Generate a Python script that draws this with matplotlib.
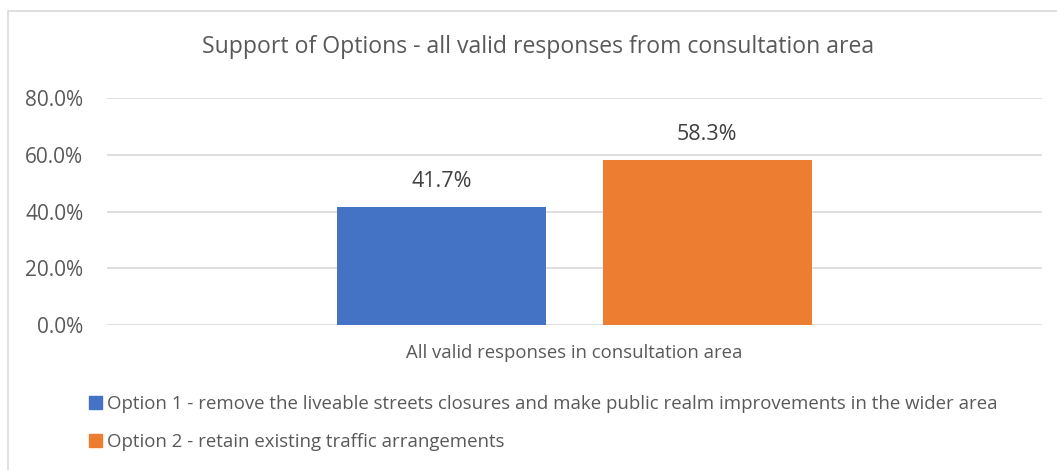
import matplotlib.pyplot as plt
from matplotlib.patches import Rectangle, Patch
from matplotlib.ticker import FuncFormatter

category = "All valid responses in consultation area"
options = [
    "Option 1 - remove the liveable streets closures and make public realm improvements in the wider area",
    "Option 2 - retain existing traffic arrangements",
]
values = [41.7, 58.3]
colors = ["#4472C4", "#ED7D31"]
yticks = [0, 20, 40, 60, 80]

W, H = 1057, 470
plt.rcParams["font.family"] = ["Open Sans", "DejaVu Sans"]
text_color = "#595959"

fig = plt.figure(figsize=(W / 100, H / 100), dpi=100)
# plot area in pixels: x 107..1042, y 98..325
ax = fig.add_axes([107 / W, 1 - 325 / H, (1042 - 107) / W, (325 - 98) / H])

# chart border (runs off right and bottom)
fig.patches.append(Rectangle((8 / W, -0.1), 1.2, 1 - 11 / H + 0.1, transform=fig.transFigure,
                             fill=False, edgecolor="#d9d9d9", linewidth=1.2))

bw = 0.2235
offsets = [-0.5 * bw - 0.03, 0.5 * bw + 0.03]
for v, c, off in zip(values, colors, offsets):
    ax.bar(off, v, width=bw, color=c, zorder=3)
    ax.annotate(f"{v:.1f}%", (off, v), xytext=(0, 18), textcoords="offset points",
                ha="center", va="center", fontsize=15.5, color="#404040")

ax.set_xlim(-0.5, 0.5)
ax.set_ylim(0, 80)
ax.set_yticks(yticks)
ax.yaxis.set_major_formatter(FuncFormatter(lambda v, p: f"{v:.1f}%"))
ax.grid(axis="y", color="#d9d9d9", linewidth=1.2, zorder=0)
ax.set_xticks([0])
ax.set_xticklabels([category])
ax.tick_params(axis="x", length=0, pad=14, labelsize=13.3, labelcolor=text_color)
ax.tick_params(axis="y", length=0, pad=17, labelsize=15, labelcolor=text_color)
for s in ax.spines.values():
    s.set_visible(False)

fig.text(538 / W, 1 - 47 / H, "Support of Options - all valid responses from consultation area",
         ha="center", va="center", fontsize=16.6, color=text_color)

handles = [Patch(color=c) for c in colors]
fig.legend(handles, options, loc="upper left", bbox_to_anchor=(82 / W, 1 - 388 / H),
           frameon=False, fontsize=13.4, labelcolor=text_color, handlelength=0.65,
           handleheight=0.7, handletextpad=0.3, labelspacing=1.05, borderaxespad=0)

fig.savefig("out.png", dpi=100)
